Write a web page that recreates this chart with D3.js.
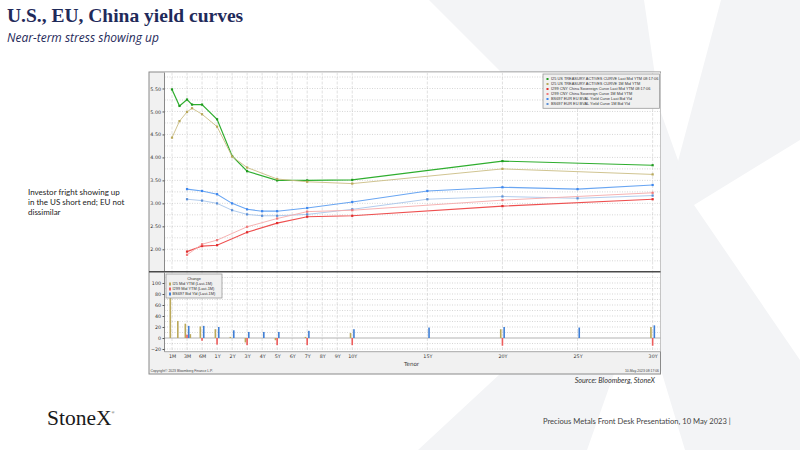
<!DOCTYPE html>
<html>
<head>
<meta charset="utf-8">
<script src="https://cdn.jsdelivr.net/npm/d3@7/dist/d3.min.js"></script>
<style>
body { margin: 0; background: #fff; }
svg { display: block; }
</style>
</head>
<body>
<div id="slide"></div>
<script>
// tenor axis
var tickLabels = ["1M", "3M", "6M", "1Y", "2Y", "3Y", "4Y", "5Y", "6Y", "7Y", "8Y", "9Y", "10Y", "15Y", "20Y", "25Y", "30Y"];
var tickYears = [1 / 12, 0.25, 0.5, 1, 2, 3, 4, 5, 6, 7, 8, 9, 10, 15, 20, 25, 30];

// US treasury actives curve (I25)
var usTenors = [1 / 12, 2 / 12, 3 / 12, 4 / 12, 0.5, 1, 2, 3, 5, 7, 10, 20, 30];
var usLast = [5.48, 5.12, 5.26, 5.15, 5.15, 4.83, 4.03, 3.70, 3.50, 3.50, 3.51, 3.92, 3.83];
var us1M = [4.43, 4.79, 4.99, 5.07, 4.94, 4.67, 4.02, 3.78, 3.53, 3.47, 3.43, 3.75, 3.63];
var usChange = [105, 31, 26, 7, 21, 16, 2, -8, -4, 2, 9, 16, 20];

// China sovereign curve (I299)
var cnTenors = [0.25, 0.5, 1, 3, 5, 7, 10, 20, 30];
var cnLast = [1.95, 2.07, 2.09, 2.37, 2.57, 2.71, 2.73, 2.94, 3.09];
var cn1M = [1.88, 2.11, 2.20, 2.49, 2.67, 2.82, 2.85, 3.07, 3.23];
var cnChange = [6, -5, -12, -13, -13, -13, -13, -14, -14];

// EU BVAL curve (BS697)
var euTenors = [0.25, 0.5, 1, 2, 3, 4, 5, 7, 10, 15, 20, 25, 30];
var euLast = [3.31, 3.27, 3.20, 3.00, 2.87, 2.83, 2.83, 2.90, 3.03, 3.27, 3.35, 3.31, 3.40];
var eu1M = [3.09, 3.06, 3.00, 2.85, 2.76, 2.73, 2.73, 2.76, 2.87, 3.09, 3.15, 3.11, 3.17];
var euChange = [22, 22, 20, 14, 11, 11, 11, 13, 16, 19, 20, 19, 23];

var curveNames = [
    "I25 US TREASURY ACTIVES CURVE Last Mid YTM 08:17:06",
    "I25 US TREASURY ACTIVES CURVE 1M Mid YTM",
    "I299 CNY China Sovereign Curve Last Mid YTM 08:17:06",
    "I299 CNY China Sovereign Curve 1M Mid YTM",
    "BS697 EUR EU BVAL Yield Curve Last Bid Yld",
    "BS697 EUR EU BVAL Yield Curve 1M Bid Yld"
];
var changeNames = ["I25 Mid YTM (Last-1M)", "I299 Mid YTM (Last-1M)", "BS697 Bid Yld (Last-1M)"];

var upperTicks = [2.00, 2.50, 3.00, 3.50, 4.00, 4.50, 5.00, 5.50];
var lowerTicks = [-20, 0, 20, 40, 60, 80, 100];


// set up layout
var W = 800, H = 450;
var frame = { left: 149, top: 72, right: 660.5, bottom: 374 },
    plotLeft = 164.5,
    upTop = 72.5, upBottom = 271,
    lowTop = 272.7, lowBottom = 351.7,
    firstTick = 172, tickStep = 15.02;

var navy = "#1f2a5a";
var axisFont = "'DejaVu Sans', sans-serif";

var svg = d3.select("#slide").append("svg")
    .attr("width", W)
    .attr("height", H);


// watermark X in the background
var wm = d3.line();
svg.append("path")
    .attr("d", wm([[429, 0], [644, 0], [660, 110], [694, 205], [800, 360], [900, 450], [685, 450], [640, 300], [600, 230], [501, 72]]) + "Z")
    .style("fill", "#f3f4f6");
svg.append("path")
    .attr("d", wm([[721, 0], [870, 0], [800, 140], [694, 205], [640, 300], [587, 450], [418, 450], [501, 373], [600, 230], [673, 180]]) + "Z")
    .style("fill", "#f3f4f6");


// title and subtitle
svg.append("text")
    .attr("x", 7).attr("y", 22)
    .style("font-family", "'Liberation Serif', serif")
    .style("font-weight", "bold")
    .style("font-size", "19.5px")
    .style("fill", navy)
    .text("U.S., EU, China yield curves");

svg.append("text")
    .attr("x", 7).attr("y", 42)
    .style("font-family", "'Open Sans', sans-serif")
    .style("font-style", "italic")
    .style("font-size", "12px")
    .style("fill", navy)
    .text("Near-term stress showing up");


// side comment
var note = svg.append("text")
    .style("font-family", "Lato, sans-serif")
    .style("font-size", "8px")
    .style("fill", "#222");
["Investor fright showing up", "in the US short end; EU not", "dissimilar"].forEach(function (d, i) {
    note.append("tspan").attr("x", 28).attr("y", 195 + i * 9.8).text(d);
});


// scales
var xSlots = tickYears.map(function (t, i) { return t <= 10 ? i : 12 + (t - 10); });
var x = d3.scaleLinear()
    .domain(tickYears)
    .range(xSlots.map(function (s) { return firstTick + s * tickStep; }));

var yUp = d3.scaleLinear().domain([1.528, 5.848]).range([upBottom, upTop]);
var yLow = d3.scaleLinear().domain([-24.9, 118.7]).range([lowBottom, lowTop]);


// chart frame
svg.append("rect")
    .attr("x", frame.left).attr("y", frame.top)
    .attr("width", frame.right - frame.left)
    .attr("height", frame.bottom - frame.top)
    .style("fill", "#f1f1f1")
    .style("stroke", "#8a8a8a")
    .style("stroke-width", 1);

svg.append("rect")
    .attr("x", plotLeft).attr("y", upTop)
    .attr("width", frame.right - plotLeft)
    .attr("height", lowBottom - upTop)
    .style("fill", "#fff");


// grid
var grid = svg.append("g").attr("class", "grid");

grid.selectAll(".vgrid")
    .data(tickYears)
    .enter().append("line")
    .attr("x1", x).attr("x2", x)
    .attr("y1", upTop).attr("y2", lowBottom)
    .style("stroke", "#d9d9d9")
    .style("stroke-width", 0.8)
    .style("stroke-dasharray", "3,1.5");

grid.selectAll(".hup")
    .data(d3.range(1.75, 5.8, 0.25))
    .enter().append("line")
    .attr("x1", plotLeft).attr("x2", frame.right)
    .attr("y1", yUp).attr("y2", yUp)
    .style("stroke", "#c4c4c4")
    .style("stroke-width", 0.7)
    .style("stroke-dasharray", "1,1.5");

grid.selectAll(".hlow")
    .data(d3.range(-20, 111, 10).filter(function (d) { return d !== 0; }))
    .enter().append("line")
    .attr("x1", plotLeft).attr("x2", frame.right)
    .attr("y1", yLow).attr("y2", yLow)
    .style("stroke", "#c4c4c4")
    .style("stroke-width", 0.7)
    .style("stroke-dasharray", "1,1.5");

// zero line and bottom line of the change panel
grid.append("line")
    .attr("x1", plotLeft).attr("x2", frame.right)
    .attr("y1", yLow(0)).attr("y2", yLow(0))
    .style("stroke", "#a0a0a0").style("stroke-width", 0.8);
grid.append("line")
    .attr("x1", plotLeft).attr("x2", frame.right)
    .attr("y1", lowBottom).attr("y2", lowBottom)
    .style("stroke", "#909090").style("stroke-width", 0.8);


// upper y-axis
var yAxisUp = d3.axisLeft(yUp)
    .tickValues(upperTicks)
    .tickFormat(d3.format(".2f"))
    .tickSize(2)
    .tickPadding(1.5);

svg.append("g")
    .attr("class", "y axis")
    .attr("transform", "translate(" + plotLeft + ",0)")
    .call(yAxisUp)
    .call(function (g) {
        g.select(".domain").attr("d", "M0," + upTop + "V" + upBottom).style("stroke", "#8a8a8a");
        g.selectAll(".tick line").style("stroke", "#555");
        g.selectAll("text").style("font-family", axisFont).style("font-size", "4.8px").style("fill", "#333");
    });


// lower y-axis
var yAxisLow = d3.axisLeft(yLow)
    .tickValues(lowerTicks)
    .tickFormat(d3.format("d"))
    .tickSize(2)
    .tickPadding(1.5);

svg.append("g")
    .attr("class", "y axis")
    .attr("transform", "translate(" + plotLeft + ",0)")
    .call(yAxisLow)
    .call(function (g) {
        g.select(".domain").attr("d", "M0," + lowTop + "V" + lowBottom).style("stroke", "#8a8a8a");
        g.selectAll(".tick line").style("stroke", "#555");
        g.selectAll("text").style("font-family", axisFont).style("font-size", "4.8px").style("fill", "#333");
    });


// x-axis (tenor)
var xAxis = d3.axisBottom(x)
    .tickValues(tickYears)
    .tickFormat(function (d, i) { return tickLabels[i]; })
    .tickSize(0)
    .tickPadding(3);

svg.append("g")
    .attr("class", "x axis")
    .attr("transform", "translate(0," + lowBottom + ")")
    .call(xAxis)
    .call(function (g) {
        g.select(".domain").remove();
        g.selectAll("text").style("font-family", axisFont).style("font-size", "4.8px").style("fill", "#333");
    });

svg.append("text")
    .attr("x", 404).attr("y", 365.5)
    .style("font-family", axisFont)
    .style("font-size", "5.6px")
    .style("fill", "#333")
    .text("Tenor");


// panel separator
svg.append("line")
    .attr("x1", frame.left).attr("x2", frame.right)
    .attr("y1", 271.8).attr("y2", 271.8)
    .style("stroke", "#4a4a4a")
    .style("stroke-width", 1.6);


// curves
var curves = [
    { tenors: usTenors, values: usLast, line: "#2fae2f", mark: "#1e9a1e", w: 1.2 },
    { tenors: usTenors, values: us1M, line: "#cbbd85", mark: "#b8a85a", w: 0.9 },
    { tenors: euTenors, values: euLast, line: "#6aa6f2", mark: "#3d86ee", w: 1.1 },
    { tenors: euTenors, values: eu1M, line: "#a9c6ea", mark: "#5b8fd6", w: 0.9 },
    { tenors: cnTenors, values: cnLast, line: "#ee5050", mark: "#e02c2c", w: 1.1 },
    { tenors: cnTenors, values: cn1M, line: "#f5aaaa", mark: "#ef7a7a", w: 0.9 }
];

var line = d3.line()
    .x(function (d) { return x(d[0]); })
    .y(function (d) { return yUp(d[1]); });

curves.forEach(function (c) {
    var pts = d3.zip(c.tenors, c.values);
    svg.append("path")
        .datum(pts)
        .attr("d", line)
        .style("fill", "none")
        .style("stroke", c.line)
        .style("stroke-width", c.w);
    svg.selectAll(null)
        .data(pts)
        .enter().append("rect")
        .attr("x", function (d) { return x(d[0]) - 1.1; })
        .attr("y", function (d) { return yUp(d[1]) - 1.1; })
        .attr("width", 2.2)
        .attr("height", 2.2)
        .style("fill", c.mark);
});


// change bars
var bars = [
    { tenors: usTenors, values: usChange, color: "#bba95a", dx: -1.7 },
    { tenors: cnTenors, values: cnChange, color: "#ec5c5c", dx: 0 },
    { tenors: euTenors, values: euChange, color: "#3f7fd6", dx: 1.7 }
];

bars.forEach(function (b) {
    svg.selectAll(null)
        .data(d3.zip(b.tenors, b.values))
        .enter().append("rect")
        .attr("x", function (d) { return x(d[0]) + b.dx - 0.8; })
        .attr("y", function (d) { return yLow(Math.max(0, d[1])); })
        .attr("width", 1.6)
        .attr("height", function (d) { return Math.abs(yLow(d[1]) - yLow(0)); })
        .style("fill", b.color);
});


// upper legend
var legUp = svg.append("g").attr("transform", "translate(543,74)");
legUp.append("rect")
    .attr("width", 116.5).attr("height", 34.3)
    .style("fill", "#f0f0f0")
    .style("stroke", "#9a9a9a")
    .style("stroke-width", 0.8);

var legUpItem = legUp.selectAll(".legend")
    .data(curveNames)
    .enter().append("g")
    .attr("class", "legend")
    .attr("transform", function (d, i) { return "translate(0," + (5 + i * 5) + ")"; });

legUpItem.append("rect")
    .attr("x", 3.5).attr("y", -1)
    .attr("width", 2).attr("height", 2)
    .style("fill", function (d, i) { return [curves[0], curves[1], curves[4], curves[5], curves[2], curves[3]][i].mark; });

legUpItem.append("text")
    .attr("x", 8).attr("y", 1.4)
    .style("font-family", "'Liberation Sans', sans-serif")
    .style("font-size", "3.9px")
    .style("fill", "#333")
    .text(function (d) { return d; });


// lower legend
var legLow = svg.append("g").attr("transform", "translate(166,274)");
legLow.append("rect")
    .attr("width", 56).attr("height", 24)
    .style("fill", "#f0f0f0")
    .style("stroke", "#9a9a9a")
    .style("stroke-width", 0.8);

legLow.append("text")
    .attr("x", 28).attr("y", 5.5)
    .style("text-anchor", "middle")
    .style("font-family", "'Liberation Sans', sans-serif")
    .style("font-size", "3.9px")
    .style("fill", "#333")
    .text("Change");

var legLowItem = legLow.selectAll(".legend")
    .data(changeNames)
    .enter().append("g")
    .attr("class", "legend")
    .attr("transform", function (d, i) { return "translate(0," + (10 + i * 5) + ")"; });

legLowItem.append("rect")
    .attr("x", 3).attr("y", -1.5)
    .attr("width", 2).attr("height", 3)
    .style("fill", function (d, i) { return bars[i].color; });

legLowItem.append("text")
    .attr("x", 6.5).attr("y", 1.4)
    .style("font-family", "'Liberation Sans', sans-serif")
    .style("font-size", "3.9px")
    .style("fill", "#333")
    .text(function (d) { return d; });


// chart footer texts
svg.append("text")
    .attr("x", 150.5).attr("y", 372)
    .style("font-family", "'Liberation Sans', sans-serif")
    .style("font-size", "3.4px")
    .style("fill", "#444")
    .text("Copyright\u00a9 2023 Bloomberg Finance L.P.");

svg.append("text")
    .attr("x", 659).attr("y", 372)
    .style("text-anchor", "end")
    .style("font-family", "'Liberation Sans', sans-serif")
    .style("font-size", "3.4px")
    .style("fill", "#444")
    .text("10-May-2023 08:17:06");

svg.append("text")
    .attr("x", 655).attr("y", 382.5)
    .style("text-anchor", "end")
    .style("font-family", "Lato, sans-serif")
    .style("font-style", "italic")
    .style("font-size", "7.2px")
    .style("fill", "#333")
    .text("Source:  Bloomberg,  StoneX");


// slide footer
var logo = svg.append("text")
    .attr("x", 47).attr("y", 425)
    .style("font-family", "'Liberation Serif', serif")
    .style("font-size", "21.5px")
    .style("fill", "#1a1a1a")
    .text("StoneX");
logo.append("tspan")
    .attr("dy", -11)
    .style("font-size", "4px")
    .text("\u00ae");

svg.append("text")
    .attr("x", 543).attr("y", 424)
    .style("font-family", "Lato, sans-serif")
    .style("font-size", "7.6px")
    .style("fill", "#444")
    .text("Precious Metals Front Desk Presentation, 10 May 2023 |");
</script>
</body>
</html>
